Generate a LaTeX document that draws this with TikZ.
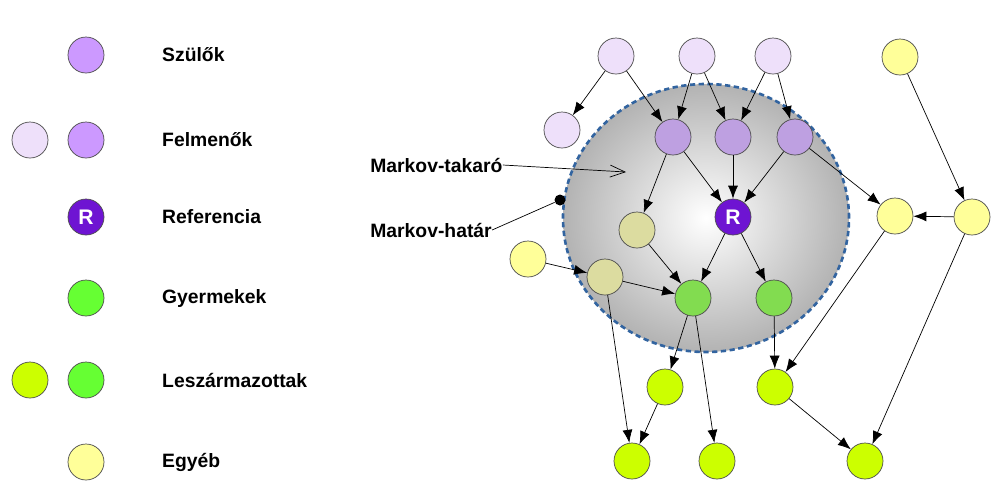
\documentclass[tikz,border=0pt]{standalone}
\usepackage{fontspec}
\setmainfont{Liberation Sans}
\usetikzlibrary{arrows.meta, positioning, shapes.geometric}
\definecolor{szulo}{RGB}{204, 153, 255}
\definecolor{szulobent}{RGB}{190, 160, 225}
\definecolor{felmeno}{RGB}{238, 224, 250}
\definecolor{refpurple}{RGB}{110, 20, 210}
\definecolor{gyerek}{RGB}{102, 255, 51}
\definecolor{gyerekbent}{RGB}{130, 220, 80}
\definecolor{leszarm}{RGB}{204, 255, 0}
\definecolor{egyeb}{RGB}{255, 255, 153}
\definecolor{egyebbent}{RGB}{220, 220, 160}
\definecolor{hatarblue}{RGB}{50, 100, 160}

\begin{document}
\begin{tikzpicture}[
    x=0.2mm, y=-0.2mm,
    nd/.style={circle, draw=black!70, thin, minimum size=7.2mm, inner sep=0pt},
    arrow/.style={-{Latex[length=2.6mm, width=2mm]}, thin},
    legend/.style={anchor=west, font=\fontsize{11}{13}\selectfont\bfseries},
    lbl/.style={anchor=west, inner sep=0pt, font=\fontsize{11}{13}\selectfont\bfseries}
]
\useasboundingbox (0,0) rectangle (998,495);

% Jelmagyarázat
\node[nd, fill=szulo] (lsz) at (86,55) {};
\node[legend] at (156,55) {Szülők};
\node[nd, fill=felmeno] (lf1) at (30,140) {};
\node[nd, fill=szulo] (lf2) at (86,140) {};
\node[legend] at (156,140) {Felmenők};
\node[nd, fill=refpurple, text=white, font=\fontsize{12}{14}\selectfont\bfseries] (lr) at (86,217) {R};
\node[legend] at (156,217) {Referencia};
\node[nd, fill=gyerek] (lgy) at (86,298) {};
\node[legend] at (156,298) {Gyermekek};
\node[nd, fill=leszarm] (ll1) at (30,380) {};
\node[nd, fill=gyerek] (ll2) at (86,380) {};
\node[legend] at (156,380) {Leszármazottak};
\node[nd, fill=egyeb] (le) at (86,462) {};
\node[legend] at (156,462) {Egyéb};

% Markov-takaró
\node[ellipse, minimum width=57.2mm, minimum height=53.6mm, inner sep=0pt,
      draw=hatarblue, dash pattern=on 3pt off 2pt, line width=1.5pt,
      inner color=white, outer color=black!30] (takaro) at (706,218) {};

% Felmenők és szülők
\node[nd, fill=felmeno] (a1) at (616,56) {};
\node[nd, fill=felmeno] (a2) at (697,56) {};
\node[nd, fill=felmeno] (a3) at (773,56) {};
\node[nd, fill=felmeno] (a4) at (562,130) {};
\node[nd, fill=szulobent] (p1) at (673,137) {};
\node[nd, fill=szulobent] (p2) at (733,137) {};
\node[nd, fill=szulobent] (p3) at (795,137) {};

% Referencia és gyermekek
\node[nd, fill=refpurple, text=white, font=\fontsize{12}{14}\selectfont\bfseries] (r) at (733,217) {R};
\node[nd, fill=egyebbent] (o1) at (637,230) {};
\node[nd, fill=egyebbent] (o2) at (605,277) {};
\node[nd, fill=gyerekbent] (c1) at (693,298) {};
\node[nd, fill=gyerekbent] (c2) at (774,298) {};

% Egyéb és leszármazottak
\node[nd, fill=egyeb] (y1) at (900,57) {};
\node[nd, fill=egyeb] (y2) at (528,259) {};
\node[nd, fill=egyeb] (y3) at (895,216) {};
\node[nd, fill=egyeb] (y4) at (972,217) {};
\node[nd, fill=leszarm] (d1) at (665,387) {};
\node[nd, fill=leszarm] (d2) at (775,387) {};
\node[nd, fill=leszarm] (d3) at (632,461) {};
\node[nd, fill=leszarm] (d4) at (717,461) {};
\node[nd, fill=leszarm] (d5) at (865,461) {};

% Élek
\draw[arrow] (a1) -- (a4);
\draw[arrow] (a1) -- (p1);
\draw[arrow] (a2) -- (p1);
\draw[arrow] (a2) -- (p2);
\draw[arrow] (a3) -- (p2);
\draw[arrow] (a3) -- (p3);
\draw[arrow] (p1) -- (o1);
\draw[arrow] (p1) -- (r);
\draw[arrow] (p2) -- (r);
\draw[arrow] (p3) -- (r);
\draw[arrow] (p3) -- (y3);
\draw[arrow] (y1) -- (y4);
\draw[arrow] (y4) -- (y3);
\draw[arrow] (y3) -- (d2);
\draw[arrow] (y4) -- (d5);
\draw[arrow] (o1) -- (c1);
\draw[arrow] (y2) -- (o2);
\draw[arrow] (o2) -- (c1);
\draw[arrow] (o2) -- (d3);
\draw[arrow] (r) -- (c1);
\draw[arrow] (r) -- (c2);
\draw[arrow] (c1) -- (d1);
\draw[arrow] (c1) -- (d4);
\draw[arrow] (c2) -- (d2);
\draw[arrow] (d1) -- (d3);
\draw[arrow] (d2) -- (d5);

% Feliratok
\node[lbl] (takarolbl) at (370,165) {Markov-takaró};
\coordinate (takarovege) at (626,172);
\draw[-{Straight Barb[length=3mm, width=2.4mm]}, thin] (takarolbl.east) -- (takarovege);
\node[lbl] (hatarlbl) at (370,230) {Markov-határ};
\node[circle, fill=black, inner sep=0pt, minimum size=2.2mm] (hatarpont) at (560,200) {};
\draw[thin] (hatarlbl.east) -- (hatarpont);

\end{tikzpicture}
\end{document}
